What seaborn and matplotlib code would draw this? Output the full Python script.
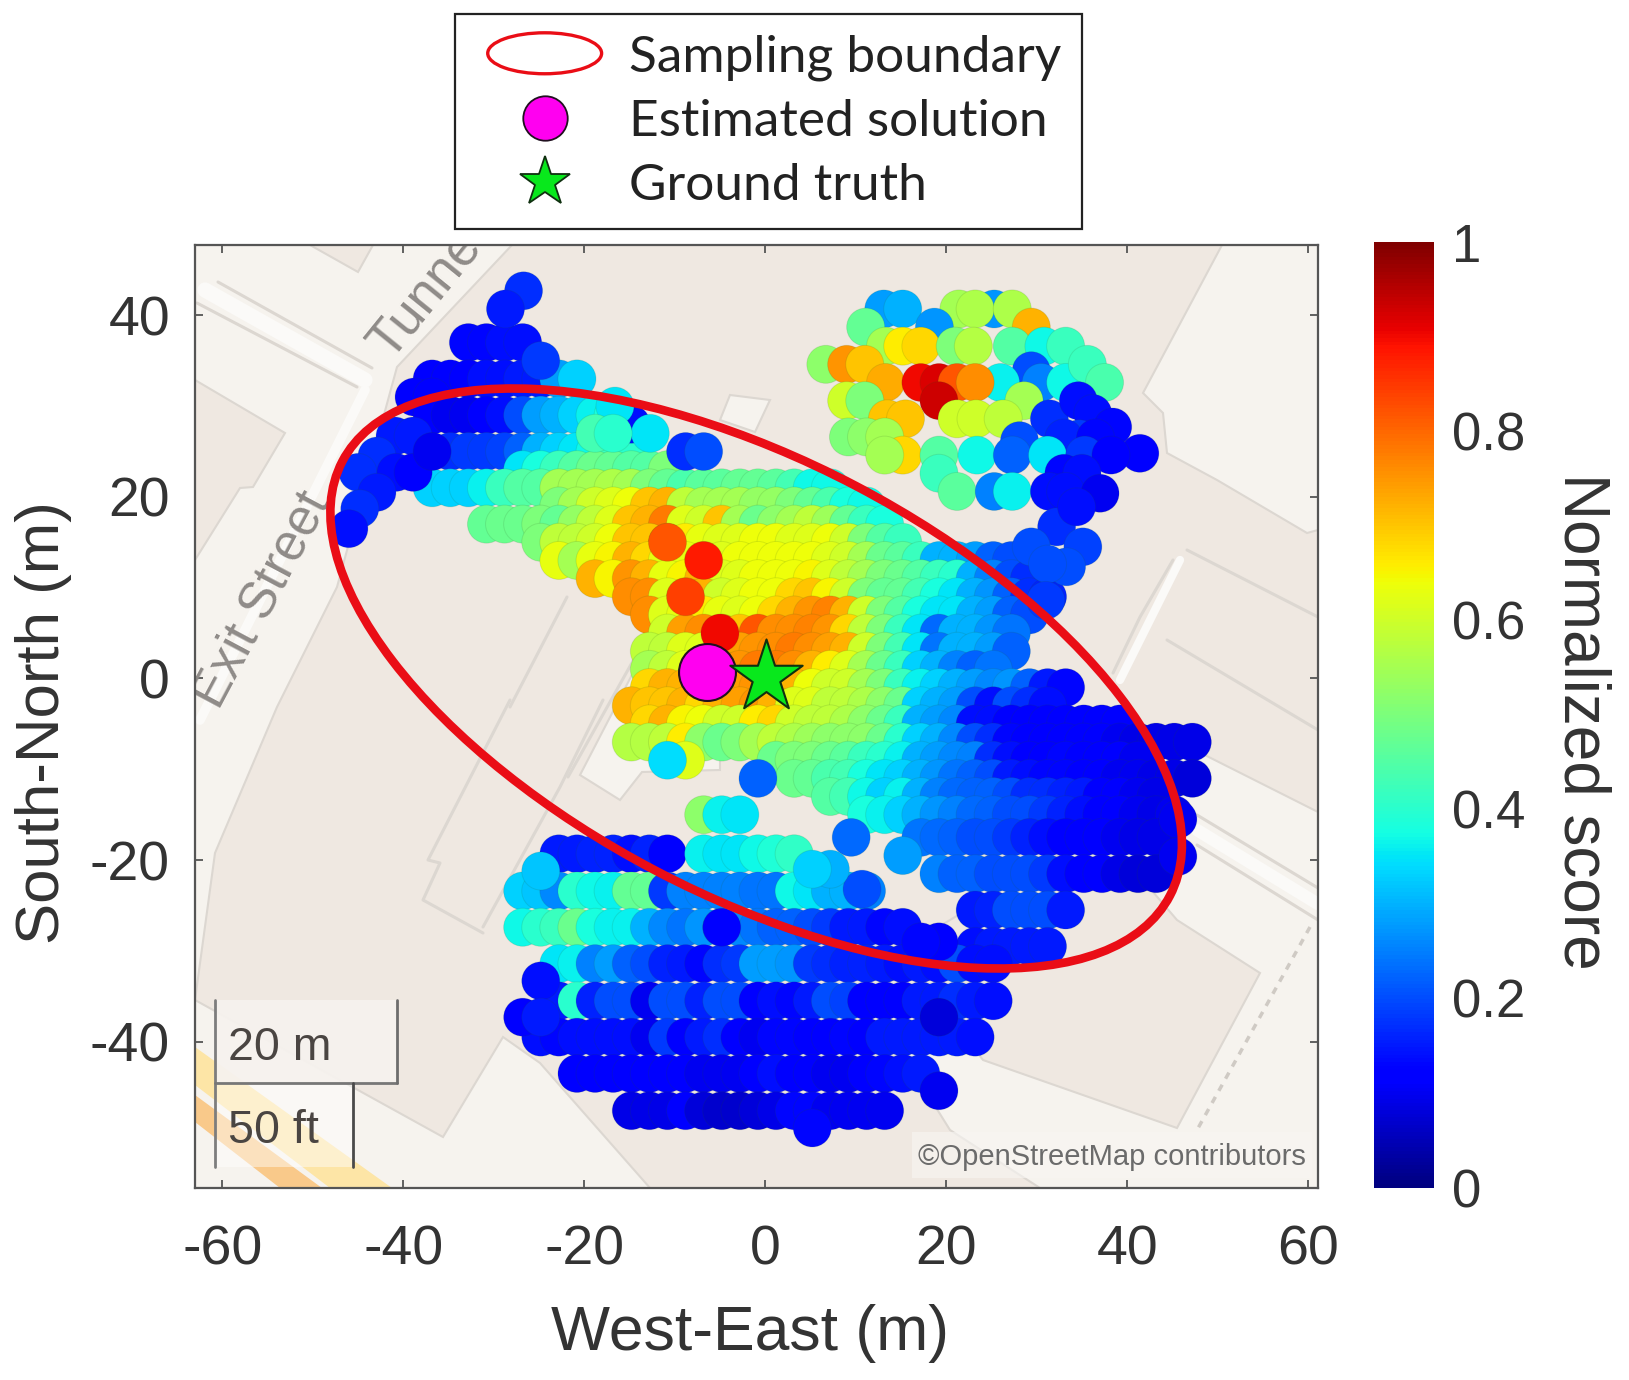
import numpy as np
import pandas as pd
import matplotlib
matplotlib.use("Agg")
import matplotlib.pyplot as plt
import seaborn as sns
from matplotlib.patches import Ellipse, Polygon, Patch, Rectangle
from matplotlib.lines import Line2D
from matplotlib.legend_handler import HandlerPatch
from matplotlib.cm import ScalarMappable
from matplotlib.colors import Normalize

# ---------- data: grid rows (y, first x, scores in % at 2 m steps) ----------
row_y = [37, 33, 31, 29, 25, 23, 21, 21, 19, 17, 17, 15, 13, 11, 9, 7, 5, 3, 1, -1, -3, -5, -7, -9, -11, -13, -15, -17.5,
         -21.5, -25.5, -29.5, -19.3, -19.3, -23.4, -23.4, -27.4, -31.4, -35.5, -39.5, -43.5, -47.6]
row_x0 = [-32.8, -36.8, -38.8, -36.8, -34.8, -26.8, -36.8, -22.8, -22.8, -30.8, -22.8, -24.8, -22.8, -18.8, -14.8, -12.8, -10.8,
          -12.8, -12.8, -12.8, -14.8, -12.8, -14.8, 1.2, 3.2, 7.2, 11.2, 17.2,
          19.2, 23.2, 23.2, -22.8, -6.8, -26.8, -8.8, -26.8, -22.8, -22.8, -24.8, -20.8, -14.8]
row_scores = [
    [13, 13, 14, 14],
    [12, 12, 12, 14, 14, 15, 15, 28, 33],
    [12, 12],
    [11, 10, 10, 11, 14, 20, 28, 30, 33, 36, 38],
    [17, 18, 18, 19, 22, 30, 33, 35, 37, 42, 40],
    [35, 38, 42, 45, 48, 47, 45, 45, 50],
    [33, 33, 33, 36, 42, 45, 45],
    [55, 55, 55, 56, 55, 50, 47, 44, 46, 46, 47, 47, 46, 43, 37, 37],
    [50, 55, 60, 62, 64, 70, 72, 58, 55, 55, 55, 53, 53, 50, 47, 44, 38, 37],
    [47, 48, 48, 50],
    [47, 53, 58, 62, 70, 72, 78, 62, 60, 70, 55, 48, 52, 55, 58, 54, 47, 42, 38],
    [50, 58, 58, 60, 64, 70, 70, 80, 66, 63, 62, 62, 64, 64, 62, 62, 64, 60, 50, 45, 42],
    [63, 55, 63, 65, 72, 68, 63, 63, 63, 62, 64, 64, 64, 64, 64, 62, 60, 55, 48, 46, 42, 30, 30, 28, 22, 20],
    [72, 65, 75, 72, 63, 65, 72, 62, 62, 64, 64, 64, 65, 62, 58, 55, 50, 48, 45, 42, 40, 30, 25, 20, 17],
    [76, 76, 62, 72, 72, 60, 62, 64, 64, 68, 70, 65, 60, 50, 47, 47, 43, 38, 35, 30, 27, 22, 17, 16],
    [76, 62, 63, 66, 63, 62, 64, 68, 72, 75, 77, 72, 60, 50, 45, 38, 35, 35, 30, 28, 22, 20],
    [60, 74, 76, 80, 70, 82, 76, 76, 77, 75, 68, 58, 50, 42, 35, 23, 30, 30, 27, 24],
    [58, 58, 62, 62, 65, 74, 75, 76, 78, 76, 74, 72, 60, 50, 43, 35, 24, 30, 30, 28, 22],
    [55, 58, 62, 66, 72, 75, 78, 78, 76, 72, 66, 62, 55, 48, 42, 33, 30, 25, 22, 24],
    [68, 72, 72, 72, 72, 74, 75, 74, 72, 64, 60, 60, 55, 50, 42, 36, 33, 30, 28, 26, 27, 22, 15, 13],
    [72, 70, 70, 72, 68, 72, 74, 75, 72, 62, 62, 58, 58, 56, 52, 48, 33, 30, 28, 20, 14, 20, 17, 14],
    [68, 72, 65, 64, 60, 60, 66, 68, 60, 58, 58, 56, 52, 48, 42, 30, 28, 26, 14, 14, 11, 12, 12, 12, 11, 11, 11],
    [57, 57, 58, 66, 52, 48, 50, 55, 58, 56, 54, 52, 52, 52, 48, 40, 33, 30, 26, 20, 17, 13, 12, 12, 12, 12, 11, 10, 9, 9, 9, 9],
    [48, 50, 50, 48, 46, 42, 40, 36, 30, 28, 26, 25, 17, 14, 12, 12, 13, 12, 11, 11, 10],
    [48, 47, 44, 43, 38, 35, 33, 30, 27, 24, 22, 20, 15, 14, 13, 13, 12, 11, 10, 10, 9, 9, 8],
    [45, 43, 37, 33, 36, 30, 25, 23, 22, 22, 20, 17, 17, 16, 15, 11, 11, 10, 9],
    [38, 36, 33, 30, 27, 25, 23, 22, 20, 20, 18, 16, 14, 12, 11, 10, 9, 10],
    [24, 23, 22, 20, 20, 18, 16, 14, 12, 12, 11, 10, 9, 9],
    [25, 22, 22, 20, 20, 20, 18, 14, 12, 11, 9, 8, 8],
    [15, 16, 20, 20, 20, 15],
    [14, 15, 15, 15, 15],
    [15, 15, 16, 16, 14, 16, 11],
    [36, 35, 35, 37, 39, 41],
    [33, 32, 26, 40, 37, 36, 47, 47, 18],
    [25, 25, 25, 25, 24, 24, 37, 35, 30, 30, 25],
    [37, 40, 42, 48, 38, 36, 36, 30, 26, 24, 27, 25, 26, 24, 22, 22, 20, 18, 15, 15, 13, 14],
    [35, 36, 25, 28, 22, 20, 16, 15, 13, 17, 18, 28, 28, 27, 18, 17, 16, 16, 15, 14, 15, 14, 20, 14, 14],
    [15, 40, 16, 20, 20, 10, 20, 20, 16, 20, 20, 12, 14, 13, 15, 20, 19, 12, 11, 12, 15, 15, 17, 15, 14],
    [14, 13, 14, 14, 14, 14, 10, 18, 12, 15, 17, 11, 10, 13, 13, 12, 12, 13, 11, 15, 15, 15, 15, 15, 14],
    [11, 11, 11, 11, 11, 11, 11, 10, 10, 10, 12, 14, 11, 11, 10, 10, 11, 13, 14, 15],
    [9, 9, 9, 12, 8, 7, 7, 8, 9, 13, 13, 10, 10, 10, 10],
]

# ---------- data: isolated points and the points that sit on top ----------
extra_x = [-26.7, -28.7, -24.8, -14.8, -16.6, -12.7, -18.8, -16.8, -8.8, -6.8,
           -40.9, -38.9, -42.9, -45, -40.8, -38.9, -42.9, -44.8, -46,
           -8.8, -0.8, -6.8, -4.8, -2.8, 9.5, 15.2, 10.7, 7.2, 5.2, 45.6, 45.6, 19.2, 17.2,
           -24.8, -24.8, -26.8, -24.8, 19.2, 19.2, 5.2, -36.8, -10.8, -6.8, -8.8, -5, -10.8, -4.8]
extra_y = [42.7, 40.7, 35, 28, 30, 27, 27, 27, 25, 25,
           26.7, 26.7, 24.5, 22.7, 22.7, 22.7, 20.5, 18.7, 16.5,
           -9, -11, -15, -15, -15, -17.5, -19.5, -23.2, -21, -21, -15.5, -19.6, -29, -29,
           -21.2, -33.3, -37.3, -37.3, -37.3, -45.4, -49.5, 25, 15, 13, 9, 5, -9, -27.4]
extra_s = [17, 15, 18, 14, 35, 35, 43, 40, 17, 20,
           15, 15, 17, 17, 14, 12, 15, 17, 14,
           62, 22, 52, 36, 35, 23, 28, 20, 30, 33, 10, 10, 12, 13,
           32, 14, 11, 15, 8, 10, 13, 10, 82, 88, 84, 90, 34, 12]

# ---------- data: north-east cluster ----------
cluster_x = [13.1, 15.2, 11.1, 25.3, 21.4, 23.2, 27.3, 18.7, 29.4, 13.3, 15.2, 17.2, 21, 23, 27.3, 30.8, 33.2,
             6.7, 9, 11, 29.4, 30.5, 33.2, 35.6, 37.5, 26, 13.3, 17.2, 19.2, 21.2, 23.2, 9, 11, 19.2, 28.6,
             31.4, 13.5, 15.5, 21.2, 23.3, 26.3, 9.2, 11.2, 13.2, 34.6, 36.2, 38.4, 41.4, 34.7, 28.1, 33, 36.5, 15.2, 13.2, 19.2, 23.4, 27.3,
             31.2, 35.3, 38.2, 33, 35, 19.2, 21.2, 25.3, 27.3, 31.4, 33.2, 37, 32.2, 34.4, 35.1, 33.3, 29.4, 31.2, 31]
cluster_y = [40.7, 40.7, 38.7, 40.7, 40.7, 40.7, 40.7, 38.7, 38.7, 36.6, 36.6, 36.6, 36.6, 36.6, 36.6, 36.6, 36.6,
             34.6, 34.6, 34.6, 33.9, 32.6, 32.6, 34.6, 32.6, 32.6, 32.6, 32.6, 32.6, 32.6, 32.6, 30.6, 30.6, 30.6, 30.6,
             28.6, 28.6, 28.6, 28.6, 28.6, 28.6, 26.6, 26.6, 26.6, 30.6, 29.2, 27.7, 24.8, 26.4, 26.2, 26.5, 26.5, 24.6, 24.6, 24.6, 24.6, 24.6,
             24.6, 24.6, 24.6, 22.6, 22.6, 22.6, 20.6, 20.6, 20.6, 20.6, 20.6, 20.4, 16.7, 18.9, 14.5, 12.3, 14.5, 12.6, 8.6]
cluster_s = [28, 30, 47, 27, 55, 56, 56, 27, 72, 55, 66, 68, 50, 57, 45, 37, 42,
             52, 75, 70, 20, 25, 37, 42, 44, 36, 73, 90, 92, 82, 76, 60, 50, 93, 55,
             17, 70, 70, 60, 60, 58, 50, 52, 55, 14, 14, 13, 11, 18, 20, 16, 13, 68, 55, 45, 37, 22,
             35, 18, 11, 13, 14, 42, 46, 25, 36, 14, 14, 10, 17, 14, 19, 20, 20, 20, 18]

solution_x, solution_y = [-6.4], [0.7]
truth_x, truth_y = [0.1], [0.2]
legend_labels = ["Sampling boundary", "Estimated solution", "Ground truth"]
x_ticks = [-60, -40, -20, 0, 20, 40, 60]
y_ticks = [-40, -20, 0, 20, 40]
cbar_ticks = [0, 0.2, 0.4, 0.6, 0.8, 1]
cbar_ticklabels = ["0", "0.2", "0.4", "0.6", "0.8", "1"]

# ---------- tables ----------
xs, ys, ss = [], [], []
for yy, x0, vals in zip(row_y, row_x0, row_scores):
    for k, v in enumerate(vals):
        xs.append(x0 + 2 * k); ys.append(yy); ss.append(v / 100)
xs += cluster_x; ys += cluster_y; ss += [v / 100 for v in cluster_s]
xs += extra_x; ys += extra_y; ss += [v / 100 for v in extra_s]
df = pd.DataFrame({"x": xs, "y": ys, "score": ss})

# ---------- figure ----------
sns.set_theme(style="white")
plt.rcParams["font.family"] = ["Liberation Sans", "DejaVu Sans"]
plt.rcParams["axes.unicode_minus"] = False
W, H = 1629, 1380
fig = plt.figure(figsize=(W / 100, H / 100), dpi=100, facecolor="white")
L, R, T, B = 195, 1318, 245, 1188
ax = fig.add_axes([L / W, 1 - B / H, (R - L) / W, (B - T) / H])

XZ, XS, YZ, YS = 765.2, 9.05, 678.5, 9.08
ax.set_xlim((L - XZ) / XS, (R - XZ) / XS)
ax.set_ylim((YZ - B) / YS, (YZ - T) / YS)
def P(pts):
    return [((a - XZ) / XS, (YZ - b) / YS) for a, b in pts]

# ---------- background map (drawn in picture pixels) ----------
TAN, BASE, LINE = "#efe8e1", "#f6f3ee", "#dcd7d1"
ax.set_facecolor(TAN)
base_polys = [
    [(195, 245), (512, 245), (397, 367), (337, 587), (277, 707), (215, 853), (195, 1000)],
    [(195, 1000), (443, 1137), (503, 1037), (540, 1063), (650, 1188), (195, 1188)],
    [(580, 775), (620, 800), (642, 772), (720, 770), (720, 700), (650, 640)],
    [(730, 395), (770, 400), (755, 432), (720, 420)],
    [(1222, 245), (1143, 393), (1163, 413), (1167, 453), (1217, 480), (1307, 533), (1318, 530), (1318, 245)],
    [(1175, 740), (1318, 812), (1318, 1188), (1040, 1188), (950, 1130), (900, 1050), (1100, 830)],
]
tan_polys = [
    [(310, 245), (373, 245), (358, 272)],
    [(195, 380), (285, 433), (253, 487), (240, 488), (195, 560)],
    [(983, 1060), (1177, 1128), (1260, 973), (1177, 920), (1100, 830), (900, 950)],
]
for poly in base_polys:
    ax.add_patch(Polygon(P(poly), closed=True, fc=BASE, ec=LINE, lw=1.5, zorder=0.5))
for poly in tan_polys:
    ax.add_patch(Polygon(P(poly), closed=True, fc=TAN, ec=LINE, lw=1.5, zorder=0.6))
for line in [[(218, 282), (372, 368)], [(197, 303), (357, 387)],
             [(510, 700), (428, 860), (440, 863), (423, 900), (483, 933)],
             [(603, 700), (560, 787), (483, 927)], [(567, 597), (510, 707)], [(643, 643), (568, 777)],
             [(1173, 560), (1140, 617), (1113, 673)], [(1187, 550), (1318, 617)], [(1167, 640), (1318, 730)],
             [(1197, 815), (1318, 888)], [(1197, 845), (1318, 920)]]:
    ax.add_line(Line2D(*zip(*P(line)), color=LINE, lw=2.2, zorder=0.7))
for line, wd in [([(205, 290), (365, 380)], 11), ([(1197, 830), (1318, 904)], 9), ([(1180, 560), (1120, 680)], 6),
                 ([(365, 390), (200, 720)], 7)]:
    ax.add_line(Line2D(*zip(*P(line)), color="#fbfaf8", lw=wd, zorder=0.75))
ax.add_line(Line2D(*zip(*P([(1310, 927), (1197, 1130)])), color="#cfcac4", lw=2.5, ls=(0, (2, 2)), zorder=0.8))
ax.add_patch(Polygon(P([(195, 1047), (195, 1085), (330, 1188), (392, 1188)]), fc="#fde5a6", ec="none", zorder=0.8))
ax.add_patch(Polygon(P([(195, 1095), (195, 1122), (280, 1188), (322, 1188)]), fc="#f9c98a", ec="none", zorder=0.85))

tx, ty = P([(262, 600)])[0]
ax.text(tx, ty, "Exit Street", rotation=62, color="#8f8b88", fontsize=37, ha="center", va="center",
        rotation_mode="anchor", clip_on=True, zorder=0.9)
tx, ty = P([(380, 352)])[0]
ax.text(tx, ty, "Tunnel", rotation=51, color="#8f8b88", fontsize=38, ha="left", va="center",
        rotation_mode="anchor", clip_on=True, zorder=0.9)

# scale box and attribution
(bx0, by0), (bx1, by1) = P([(215, 1083), (397, 1000)])
ax.add_patch(Rectangle((bx0, by0), bx1 - bx0, by1 - by0, fc="#f6f2ee", ec="none", alpha=0.95, zorder=1))
(cx0, cy0), (cx1, cy1) = P([(215, 1167), (353, 1083)])
ax.add_patch(Rectangle((cx0, cy0), cx1 - cx0, cy1 - cy0, fc="white", ec="none", alpha=0.45, zorder=1))
for line, c in [([(215, 1000), (215, 1167)], "#7d7d7d"), ([(215, 1083), (397, 1083)], "#777777"),
                ([(397, 1000), (397, 1083)], "#6d6d6d"), ([(353, 1083), (353, 1167)], "#4a4a4a")]:
    ax.add_line(Line2D(*zip(*P(line)), color=c, lw=2, zorder=1.1))
tx, ty = P([(228, 1048)])[0]
ax.text(tx, ty, "20 m", fontsize=33.5, color="#4a4542", va="center", ha="left", zorder=1.2)
tx, ty = P([(228, 1131)])[0]
ax.text(tx, ty, "50 ft", fontsize=33.5, color="#4a4542", va="center", ha="left", zorder=1.2)
(ax0, ay0), (ax1, ay1) = P([(912, 1178), (1312, 1132)])
ax.add_patch(Rectangle((ax0, ay0), ax1 - ax0, ay1 - ay0, fc="#f8f6f3", ec="none", alpha=0.6, zorder=1))
tx, ty = P([(1306, 1157)])[0]
ax.text(tx, ty, "©OpenStreetMap contributors", fontsize=21, color="#6b6b6b", va="center", ha="right", zorder=1.2)

# ---------- score points ----------
jet = matplotlib.colormaps["jet"]
sns.scatterplot(data=df, x="x", y="y", hue="score", palette=jet, hue_norm=(0, 1), s=750,
                edgecolor=(0.15, 0.35, 0.1, 0.13), linewidth=0.7, legend=False, ax=ax, zorder=2)

# ---------- overlays ----------
RED = "#ea0d16"
ax.add_patch(Ellipse((-1, 0), 2 * 51.6, 2 * 23.9, angle=-27.6, fc="none", ec=RED, lw=6.2, zorder=3))
sns.scatterplot(x=solution_x, y=solution_y, color="#ff00f0", edgecolor="#20101f", linewidth=1.5, s=1680,
                marker="o", legend=False, ax=ax, zorder=4)
sns.scatterplot(x=truth_x, y=truth_y, color="#08e81c", edgecolor="#103010", linewidth=1.5, s=3000,
                marker="*", legend=False, ax=ax, zorder=5)

# ---------- axes ----------
ax.set_xticks(x_ticks); ax.set_yticks(y_ticks)
ax.tick_params(direction="in", length=6, width=1.3, color="#555555", top=True, right=True, bottom=True, left=True,
               labelsize=40, labelcolor="#333333")
ax.tick_params(axis="x", pad=26)
ax.tick_params(axis="y", pad=18)
ax.set_xlabel("West-East (m)", fontsize=45, color="#333333", va="center")
ax.xaxis.set_label_coords(721.5 / 1568, 1 - 1283 / 1328, transform=fig.transFigure)
ax.set_ylabel("South-North (m)", fontsize=44.5, color="#333333", va="center")
ax.yaxis.set_label_coords(42 / 1568, 1 - 695 / 1328, transform=fig.transFigure)
for s in ax.spines.values():
    s.set_visible(True); s.set_color("#555555"); s.set_linewidth(1.6)

# ---------- colour bar ----------
cax = fig.add_axes([1373.5 / W, 1 - 1187.5 / H, 60.5 / W, 945.5 / H])
cbar = fig.colorbar(ScalarMappable(norm=Normalize(0, 1), cmap=jet), cax=cax)
cbar.set_ticks(cbar_ticks, labels=cbar_ticklabels)
cbar.ax.tick_params(length=0, labelsize=38, labelcolor="#333333", pad=13)
cbar.outline.set_visible(False)
cbar.set_label("Normalized score", rotation=-90, fontsize=46, color="#333333", va="center", ha="center")
cbar.ax.yaxis.set_label_coords(1522 / 1568, 1 - 694 / 1328, transform=fig.transFigure)

# ---------- legend ----------
class EllipseHandler(HandlerPatch):
    def create_artists(self, legend, orig, xd, yd, w, h, fs, trans):
        e = Ellipse((w / 2 - xd, h / 2 - yd), 82, 29.5, fc="white", ec=RED, lw=2.4, transform=trans)
        return [e]

handles = [Patch(label=legend_labels[0]),
           Line2D([], [], ls="none", marker="o", ms=32, mfc="#ff00f0", mec="#20101f", mew=1.3, label=legend_labels[1]),
           Line2D([], [], ls="none", marker="*", ms=38, mfc="#08e81c", mec="#103010", mew=1.3, label=legend_labels[2])]
leg = fig.legend(handles=handles, loc="center", bbox_to_anchor=(768.5 / W, 1 - 121.5 / H), bbox_transform=fig.transFigure,
                 handler_map={Patch: EllipseHandler()}, prop={"family": "Lato", "size": 37},
                 frameon=True, fancybox=False, edgecolor="#222222", facecolor="white", framealpha=1,
                 handlelength=2.68, handletextpad=0.3, labelspacing=0.35, borderpad=0.4, borderaxespad=0)
leg.get_frame().set_linewidth(1.6)
for t in leg.get_texts():
    t.set_color("#222222")

fig.savefig("out.png", dpi=100, facecolor="white")
